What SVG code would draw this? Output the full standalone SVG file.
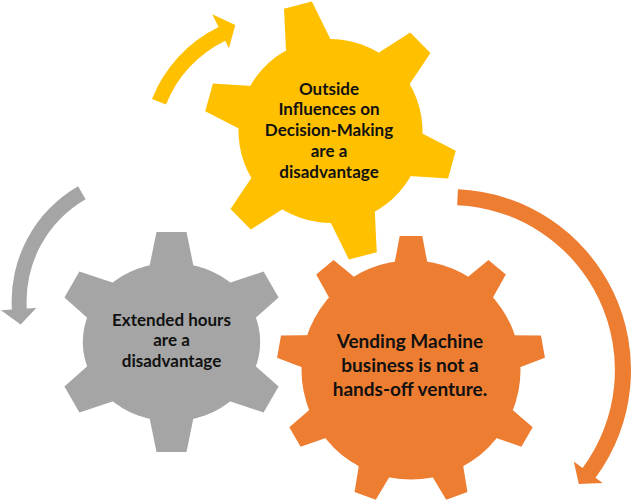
<svg xmlns="http://www.w3.org/2000/svg" width="637" height="502" viewBox="0 0 637 502">
<style>
.yellow{fill:#FFC000}
.gray{fill:#A5A5A5}
.orange{fill:#ED7D31}
.label{font-family:Lato,"Liberation Sans",sans-serif;font-weight:bold;fill:#111111;text-anchor:middle}
</style>
<defs>
<polygon id="toothY" points="-14.4,-130 14.4,-130 24,-84 -24,-84"/>
<polygon id="toothG" points="-15,-110 15,-110 24.2,-65 -24.2,-65"/>
<polygon id="toothO" points="-11.3,-134 11.3,-134 18.7,-95 -18.7,-95"/>
</defs>
<rect width="637" height="502" fill="#ffffff"/>
<g id="connectors">
<path id="arrow-yellow" class="yellow" d="M 152.0,98.9 A 135.6 135.6 0 0 1 218.6,27.1 L 212.2,14.2 L 235.3,25.1 L 228.9,48.3 L 225.2,40.7 A 120.5 120.5 0 0 0 166.0,104.5 Z"/>
<path id="arrow-gray" class="gray" d="M 78.1,186.2 A 133 133 0 0 0 11.85,309.5 L 0.87,310.2 L 20.7,324.4 L 36.3,308.0 L 26.8,308.6 A 118 118 0 0 1 85.6,199.2 Z"/>
<path id="arrow-orange" class="orange" d="M 457.9,189.2 A 181 181 0 0 1 595.5,477.7 L 602.7,483.0 L 578.8,484.0 L 573.8,461.6 L 582.6,468.1 A 165 165 0 0 0 457.2,205.2 Z"/>
</g>
<g id="gear-outside" class="yellow">
<g transform="translate(330.5,131) rotate(-14.5)">
<circle r="92"/>
<use href="#toothY"/>
<use href="#toothY" transform="rotate(60) translate(0,4)"/>
<use href="#toothY" transform="rotate(120) translate(0,4)"/>
<use href="#toothY" transform="rotate(180) translate(0,1)"/>
<use href="#toothY" transform="rotate(240) translate(0,4)"/>
<use href="#toothY" transform="rotate(300) translate(0,4)"/>
</g>
<text class="label" font-size="17"><tspan x="329" y="94.5">Outside</tspan><tspan x="329" y="115.3">Influences on</tspan><tspan x="329" y="136.1">Decision-Making</tspan><tspan x="329" y="156.9">are a</tspan><tspan x="329" y="177.7">disadvantage</tspan></text>
</g>
<g id="gear-extended" class="gray">
<g transform="translate(171.5,342)">
<ellipse rx="88.7" ry="79.3"/>
<use href="#toothG"/>
<use href="#toothG" transform="rotate(60) translate(0,-5)"/>
<use href="#toothG" transform="rotate(120) translate(0,-5)"/>
<use href="#toothG" transform="rotate(180)"/>
<use href="#toothG" transform="rotate(240) translate(0,-5)"/>
<use href="#toothG" transform="rotate(300) translate(0,-5)"/>
</g>
<text class="label" font-size="17"><tspan x="171.5" y="325.7">Extended hours</tspan><tspan x="171.5" y="346.2">are a</tspan><tspan x="171.5" y="366.7">disadvantage</tspan></text>
</g>
<g id="gear-vending" class="orange">
<g transform="translate(411,370)">
<circle r="109.5"/>
<use href="#toothO"/>
<use href="#toothO" transform="rotate(40)"/>
<use href="#toothO" transform="rotate(80)"/>
<use href="#toothO" transform="rotate(120)"/>
<use href="#toothO" transform="rotate(160)"/>
<use href="#toothO" transform="rotate(200)"/>
<use href="#toothO" transform="rotate(240)"/>
<use href="#toothO" transform="rotate(280)"/>
<use href="#toothO" transform="rotate(320)"/>
</g>
<text class="label" font-size="19"><tspan x="410" y="348.3">Vending Machine</tspan><tspan x="410" y="372.3">business is not a</tspan><tspan x="410" y="396">hands-off venture.</tspan></text>
</g>
</svg>
